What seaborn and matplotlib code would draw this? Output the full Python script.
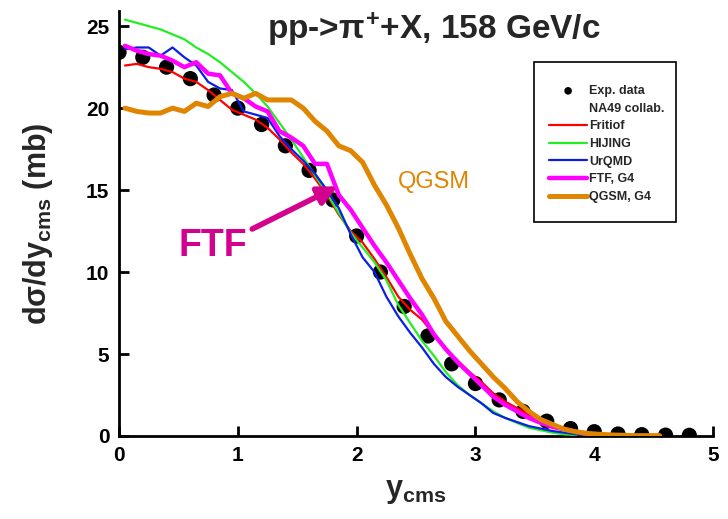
import matplotlib
matplotlib.use("Agg")
import matplotlib.pyplot as plt
from matplotlib.lines import Line2D
from matplotlib.patches import Rectangle
import seaborn as sns

# --- data ---
exp_y_cms = [0.0, 0.2, 0.4, 0.6, 0.8, 1.0, 1.2, 1.4, 1.6, 1.8, 2.0, 2.2, 2.4,
             2.6, 2.8, 3.0, 3.2, 3.4, 3.6, 3.8, 4.0, 4.2, 4.4, 4.6, 4.8]
exp_dsdy = [23.4, 23.1, 22.5, 21.8, 20.8, 20.0, 19.0, 17.7, 16.2, 14.4, 12.2, 10.0, 7.9,
            6.1, 4.4, 3.2, 2.2, 1.5, 0.9, 0.45, 0.26, 0.12, 0.08, 0.05, 0.04]

model_y_cms = [0.05, 0.15, 0.25, 0.35, 0.45, 0.55, 0.65, 0.75, 0.85, 0.95,
               1.05, 1.15, 1.25, 1.35, 1.45, 1.55, 1.65, 1.75, 1.85, 1.95,
               2.05, 2.15, 2.25, 2.35, 2.45, 2.55, 2.65, 2.75, 2.85, 2.95,
               3.05, 3.15, 3.25, 3.35, 3.45, 3.55, 3.65, 3.75, 3.85, 3.95,
               4.05, 4.15, 4.25, 4.35, 4.45, 4.55]

fritiof = [22.6, 22.7, 22.5, 22.4, 22.2, 21.8, 21.6, 21.1, 20.5, 19.9,
           19.6, 19.3, 18.8, 18.1, 17.3, 16.6, 15.7, 14.7, 13.5, 12.5,
           11.8, 10.8, 9.7, 8.5, 7.7, 7.1, 6.2, 5.3, 4.6, 3.9,
           3.3, 2.6, 2.1, 1.7, 1.3, 1.0, 0.7, 0.5, 0.3, 0.15, 0.08]
hijing = [25.4, 25.2, 25.0, 24.8, 24.5, 24.2, 23.7, 23.3, 22.8, 22.2,
          21.6, 20.9, 20.1, 19.1, 18.1, 17.0, 15.9, 14.8, 13.6, 12.4,
          11.5, 10.6, 9.5, 8.0, 6.9, 5.8, 4.9, 3.9, 3.1, 2.5,
          2.0, 1.5, 1.1, 0.8, 0.5, 0.35, 0.2, 0.1, 0.05]
urqmd = [23.6, 23.7, 23.7, 23.2, 23.7, 23.1, 22.6, 21.6, 21.2, 21.1,
         19.8, 19.6, 19.4, 18.3, 17.5, 16.8, 16.0, 15.0, 13.9, 12.3,
         10.9, 10.0, 8.5, 7.3, 6.3, 5.4, 4.4, 3.6, 3.0, 2.5,
         2.0, 1.4, 1.1, 0.85, 0.6, 0.45, 0.3, 0.2, 0.1, 0.05]
ftf_g4 = [23.8, 23.5, 23.3, 23.2, 22.9, 22.5, 22.8, 22.1, 22.0, 20.9,
          20.6, 20.1, 19.8, 18.6, 18.2, 17.7, 16.6, 16.6, 14.7, 13.8,
          12.7, 11.6, 10.6, 9.5, 8.4, 7.4, 6.2, 5.3, 4.5, 3.8,
          3.1, 2.4, 1.9, 1.5, 1.1, 0.8, 0.55, 0.4, 0.25, 0.1, 0.05]
qgsm_g4 = [20.0, 19.8, 19.7, 19.7, 20.0, 19.8, 20.3, 20.1, 20.7, 20.9,
           20.6, 20.9, 20.5, 20.5, 20.5, 20.0, 19.2, 18.6, 17.7, 17.4,
           16.7, 15.3, 14.1, 12.7, 11.1, 9.6, 8.4, 7.0, 6.1, 5.2,
           4.4, 3.6, 2.9, 2.1, 1.5, 1.0, 0.7, 0.4, 0.25, 0.15,
           0.1, 0.06, 0.04, 0.02, 0.02, 0.02]

x_ticks = [0, 1, 2, 3, 4, 5]
y_ticks = [0, 5, 10, 15, 20, 25]

# --- style ---
sns.set_style("ticks")
plt.rcParams["font.family"] = ["Liberation Sans", "DejaVu Sans"]
plt.rcParams["font.weight"] = "bold"
plt.rcParams["mathtext.fontset"] = "custom"
plt.rcParams["mathtext.rm"] = "Liberation Sans:bold"
plt.rcParams["mathtext.it"] = "Liberation Sans:bold"
plt.rcParams["mathtext.bf"] = "Liberation Sans:bold"

fig = plt.figure(figsize=(7.28, 5.19), dpi=100)
ax = fig.add_axes([0.1635, 0.16, 0.816, 0.818])

sns.scatterplot(x=exp_y_cms, y=exp_dsdy, ax=ax, color="black", s=120,
                edgecolor="none", zorder=2, label="Exp. data")

series = [
    ("Fritiof", fritiof, "#ff0000", 1.6),
    ("HIJING", hijing, "#22ee22", 1.6),
    ("UrQMD", urqmd, "#0a1ee6", 1.6),
    ("FTF, G4", ftf_g4, "#ff00ff", 3.2),
    ("QGSM, G4", qgsm_g4, "#e08500", 3.6),
]
for name, vals, col, lw in series:
    sns.lineplot(x=model_y_cms[:len(vals)], y=vals, ax=ax, color=col,
                 linewidth=lw, sort=False, label=name, zorder=3)

ax.set_xlim(0, 5)
ax.set_ylim(0, 25.9)
ax.set_xticks(x_ticks)
ax.set_yticks(y_ticks)
sns.despine(ax=ax)
for sp in ["left", "bottom"]:
    ax.spines[sp].set_linewidth(2)
    ax.spines[sp].set_color("black")
ax.tick_params(direction="in", length=7, width=2, labelsize=15, pad=7, colors="black")
for lab in ax.get_xticklabels() + ax.get_yticklabels():
    lab.set_fontweight("bold")

ax.set_xlabel(r"y$_{\rm cms}$", fontsize=22, fontweight="bold", labelpad=8)
ax.set_ylabel(r"d$\sigma$/dy$_{\rm cms}$ (mb)", fontsize=22, fontweight="bold", labelpad=22)

ax.text(2.65, 24.8, r"pp->$\pi^{+}$+X, 158 GeV/c", fontsize=24, fontweight="bold",
        ha="center", va="center")

# annotations
ax.annotate("", xy=(1.86, 15.3), xytext=(1.10, 12.55),
            arrowprops=dict(arrowstyle="-|>", color="#d4008e", lw=4, mutation_scale=28))
ax.text(0.79, 11.6, "FTF", fontsize=27, fontweight="bold", color="#d4008e",
        ha="center", va="center")
ax.text(2.65, 15.5, "QGSM", fontsize=17, fontweight="normal", color="#e08500",
        ha="center", va="center")

# legend with a separate box
handles, labels = ax.get_legend_handles_labels()
blank = Line2D([], [], linestyle="none", marker=None)
handles = [handles[0], blank] + handles[1:]
labels = [labels[0], "NA49 collab."] + labels[1:]
leg = ax.legend(handles, labels, loc="upper left", bbox_to_anchor=(0.746, 0.848),
                bbox_transform=fig.transFigure, frameon=False, fontsize=9,
                handlelength=3.0, handletextpad=0.2, labelspacing=0.45,
                borderpad=0, markerscale=0.5)
for t in leg.get_texts():
    t.set_fontweight("bold")
fig.patches.append(Rectangle((534 / 728, 1 - 222 / 519), 142 / 728, 160 / 519,
                             transform=fig.transFigure, fill=False,
                             edgecolor="black", linewidth=1.2))

fig.savefig("out.png", dpi=100)
